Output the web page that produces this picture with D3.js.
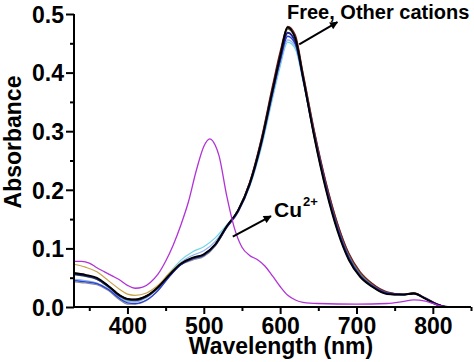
<!DOCTYPE html>
<html>
<head>
<meta charset="utf-8">
<script src="https://cdn.jsdelivr.net/npm/d3@7"></script>
<style>
  body { margin: 0; background: #fff; }
  svg { display: block; font-family: "Liberation Sans", Arial, sans-serif; font-weight: bold; }
</style>
</head>
<body>
<script>
// absorption spectra
const wavelengths = [330,345,360,375,390,400,410,425,440,455,470,485,500,515,530,545,560,575,590,600,610,620,630,645,660,675,690,705,720,740,760,775,790,805,820,850];

const freeCyan =     [.046,.044,.040,.030,.016,.010,.010,.017,.034,.058,.080,.094,.103,.118,.140,.164,.205,.270,.355,.410,.452,.440,.385,.290,.205,.136,.086,.055,.038,.024,.021,.023,.015,.005,0,0];
const freeLightBlue = [.047,.045,.041,.031,.016,.009,.009,.016,.032,.055,.076,.088,.096,.112,.139,.165,.208,.274,.360,.415,.456,.444,.388,.292,.206,.137,.087,.056,.038,.024,.021,.023,.015,.005,0,0];
const freeTan =      [.073,.068,.060,.045,.030,.022,.020,.024,.037,.058,.075,.084,.088,.105,.136,.165,.212,.284,.374,.432,.474,.460,.398,.298,.212,.142,.090,.058,.040,.025,.022,.024,.016,.006,0,0];
const freeGray =     [.043,.041,.038,.028,.012,.005,.005,.011,.028,.052,.072,.080,.086,.104,.136,.166,.212,.282,.372,.430,.474,.458,.395,.295,.208,.138,.086,.055,.038,.024,.021,.023,.015,.005,0,0];
const freeGreen =    [.055,.052,.047,.034,.018,.012,.011,.017,.032,.054,.073,.082,.088,.106,.137,.166,.212,.284,.374,.432,.474,.460,.398,.298,.212,.142,.090,.058,.040,.025,.022,.024,.015,.005,0,0];
const freeRed =      [.057,.054,.049,.036,.020,.014,.013,.019,.034,.055,.074,.083,.089,.106,.137,.166,.213,.286,.378,.436,.479,.464,.400,.300,.214,.144,.092,.060,.041,.026,.022,.024,.015,.005,0,0];
const freeBlue =     [.045,.043,.040,.030,.014,.007,.006,.012,.028,.052,.072,.082,.088,.106,.137,.165,.210,.278,.365,.420,.462,.448,.390,.292,.206,.136,.085,.054,.037,.024,.021,.023,.015,.005,0,0];
const freeNavy =     [.056,.053,.048,.035,.019,.013,.012,.018,.033,.054,.073,.083,.089,.106,.136,.163,.208,.277,.366,.423,.468,.452,.390,.290,.203,.133,.082,.052,.036,.023,.021,.023,.015,.005,0,0];
const freeBlack =    [.058,.055,.050,.036,.020,.014,.013,.019,.034,.055,.074,.084,.090,.107,.138,.165,.210,.280,.370,.428,.477,.458,.392,.288,.200,.130,.080,.051,.035,.022,.021,.023,.014,.004,0,0];

const cuWavelengths = [330,340,350,360,370,380,390,400,410,420,430,440,450,460,470,480,490,500,508,515,520,530,540,550,560,570,580,590,600,610,620,630,650,700,740,760,775,790,800,810,820,850];
const cuValues =      [.078,.078,.075,.067,.060,.053,.046,.037,.032,.034,.042,.056,.078,.106,.140,.180,.232,.274,.287,.276,.258,.190,.135,.102,.088,.081,.070,.053,.035,.020,.012,.008,.006,.005,.006,.009,.012,.010,.006,.002,0,0];

const series = [
  { values: freeCyan, color: "#6fd6e6", w: 1.2 },
  { values: freeLightBlue, color: "#8fb0f0", w: 1.2 },
  { values: freeTan, color: "#c9a24a", w: 1.2 },
  { values: freeGray, color: "#8c8c8c", w: 1.2 },
  { values: freeGreen, color: "#5f8a2e", w: 1.2 },
  { values: freeRed, color: "#7a1f2a", w: 1.2 },
  { values: freeBlue, color: "#2840d8", w: 1.3 },
  { values: freeNavy, color: "#20208a", w: 1.8 },
  { values: freeBlack, color: "#000000", w: 1.8 }
];

const xTicks = [400, 500, 600, 700, 800];
const yTicks = [0.0, 0.1, 0.2, 0.3, 0.4, 0.5];

const width = 474, height = 362;
const margin = { left: 74, top: 14, right: 3, bottom: 55 };

const svg = d3.select("body").append("svg")
  .attr("width", width)
  .attr("height", height);

const x = d3.scaleLinear().domain([330, 850]).range([margin.left, width - margin.right]);
const y = d3.scaleLinear().domain([0, 0.5]).range([height - margin.bottom, margin.top]);

const line = d3.line()
  .x(d => x(d[0]))
  .y(d => y(d[1]))
  .curve(d3.curveMonotoneX);

// spectra
series.forEach(s => {
  svg.append("path")
    .attr("d", line(wavelengths.map((w, i) => [w, s.values[i]])))
    .attr("fill", "none")
    .attr("stroke", s.color)
    .attr("stroke-width", s.w);
});

svg.append("path")
  .attr("d", line(cuWavelengths.map((w, i) => [w, cuValues[i]])))
  .attr("fill", "none")
  .attr("stroke", "#b133d6")
  .attr("stroke-width", 1.3);

// axes
const xAxis = svg.append("g")
  .attr("transform", "translate(0," + y(0) + ")");
xAxis.call(d3.axisBottom(x).tickValues(d3.range(350, 851, 50)).tickSize(4).tickFormat(""));
xAxis.call(g => g.selectAll(".tick line").filter(d => xTicks.includes(d)).attr("y2", 7));
xAxis.selectAll(".tick text").remove();
xAxis.selectAll(".tick")
  .filter(d => xTicks.includes(d))
  .append("text")
  .attr("y", 27)
  .attr("fill", "#000")
  .attr("text-anchor", "middle")
  .style("font-size", "23px")
  .text(d => d);

const isMajor = d => yTicks.some(t => Math.abs(t - d) < 1e-6);

const yAxis = svg.append("g")
  .attr("transform", "translate(" + x(330) + ",0)");
yAxis.call(d3.axisLeft(y).tickValues(d3.range(0, 0.501, 0.05)).tickSize(4).tickFormat(""));
yAxis.call(g => g.selectAll(".tick line").filter(isMajor).attr("x2", -8));
yAxis.selectAll(".tick")
  .filter(isMajor)
  .append("text")
  .attr("x", -10)
  .attr("dy", "0.36em")
  .attr("fill", "#000")
  .attr("text-anchor", "end")
  .style("font-size", "23px")
  .text(d => d3.format(".1f")(d));

svg.selectAll(".domain, .tick line").attr("stroke", "#000").attr("stroke-width", 2);
xAxis.select(".domain").attr("d", "M" + x(330) + ",0H" + x(850));
yAxis.select(".domain").attr("d", "M0," + y(0) + "V" + y(0.5));

// axis titles
svg.append("text")
  .attr("x", 281)
  .attr("y", 354)
  .attr("text-anchor", "middle")
  .style("font-size", "23px")
  .text("Wavelength (nm)");

svg.append("text")
  .attr("transform", "translate(21,142) rotate(-90)")
  .attr("text-anchor", "middle")
  .style("font-size", "23px")
  .text("Absorbance");

// annotations
svg.append("defs").append("marker")
  .attr("id", "head")
  .attr("viewBox", "0 0 10 10")
  .attr("refX", 9).attr("refY", 5)
  .attr("markerWidth", 5).attr("markerHeight", 4)
  .attr("orient", "auto")
  .append("path")
  .attr("d", "M0,0L10,5L0,10Z")
  .attr("fill", "#000");

svg.append("line")
  .attr("x1", x(625)).attr("y1", y(0.448))
  .attr("x2", x(675)).attr("y2", y(0.486))
  .attr("stroke", "#000").attr("stroke-width", 2)
  .attr("marker-end", "url(#head)");

svg.append("text")
  .attr("x", x(609)).attr("y", y(0.4915))
  .style("font-size", "20px")
  .text("Free, Other cations");

svg.append("line")
  .attr("x1", x(538)).attr("y1", y(0.12))
  .attr("x2", x(588)).attr("y2", y(0.155))
  .attr("stroke", "#000").attr("stroke-width", 2)
  .attr("marker-end", "url(#head)");

const cu = svg.append("text")
  .attr("x", x(592)).attr("y", y(0.1544))
  .style("font-size", "21px")
  .text("Cu");
cu.append("tspan")
  .attr("dy", -11)
  .attr("dx", 1)
  .style("font-size", "13px")
  .text("2+");
</script>
</body>
</html>
